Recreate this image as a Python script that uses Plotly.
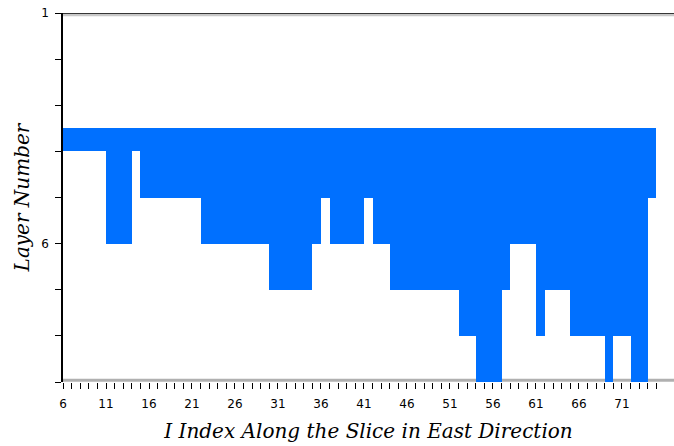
import plotly.graph_objects as go

# I index of each column along the slice
i_index = list(range(6, 75))
# Bottom layer reached by the active cells in each column
bottom_layer = (
    [4] * 5 + [6] * 3 + [4] + [5] * 7 + [6] * 8 + [7] * 5 + [6] + [5] + [6] * 4 + [5]
    + [6] * 2 + [7] * 8 + [8] * 2 + [9] * 3 + [7] + [6] * 3 + [8] + [7] * 3 + [8] * 4
    + [9] + [8] * 2 + [9] * 2 + [5]
)
top_layer = 3.5

x_tick_vals = list(range(6, 76))
x_tick_text = [str(v) if (v - 6) % 5 == 0 and v <= 71 else "" for v in x_tick_vals]
y_tick_vals = list(range(1, 10))
y_tick_text = ["1", "", "", "", "", "6", "", "", ""]

x_min, x_max = 6, 77.05

fig = go.Figure()
fig.add_trace(go.Bar(
    x=i_index,
    y=[b - top_layer for b in bottom_layer],
    base=[top_layer] * len(i_index),
    width=1,
    offset=0,
    marker=dict(color="#0070FF", line=dict(width=0)),
    showlegend=False,
    hoverinfo="skip",
))

shapes = [
    # grey rule along layer 9 (under the bars)
    dict(type="line", xref="x", yref="y", x0=x_min, x1=x_max, y0=8.96, y1=8.96,
         line=dict(color="#b0b0b0", width=3), layer="below"),
    # bottom axis line
    dict(type="line", xref="x", yref="y", x0=x_min, x1=75.2, y0=9.02, y1=9.02,
         line=dict(color="black", width=1.5), layer="above"),
    # top border with soft shadow
    dict(type="line", xref="x", yref="y", x0=x_min, x1=x_max, y0=1.04, y1=1.04,
         line=dict(color="#c8c8c8", width=3), layer="above"),
    dict(type="line", xref="x", yref="y", x0=x_min, x1=x_max, y0=1.0, y1=1.0,
         line=dict(color="black", width=1.5), layer="above"),
]

fig.update_layout(
    width=674, height=446,
    margin=dict(l=63, r=0, t=13, b=64),
    paper_bgcolor="white", plot_bgcolor="white",
    bargap=0,
    shapes=shapes,
    xaxis=dict(
        range=[x_min, x_max], tickmode="array", tickvals=x_tick_vals, ticktext=x_tick_text,
        ticks="outside", ticklen=6, tickwidth=1.2, tickcolor="black",
        ticklabelstandoff=5,
        showline=False, showgrid=False, zeroline=False,
        tickfont=dict(family="DejaVu Sans", size=12, color="black"),
        title=dict(text="I Index Along the Slice in East Direction",
                   font=dict(family="DejaVu Serif", size=20, color="black", style="italic"),
                   standoff=13),
    ),
    yaxis=dict(
        range=[9, 1], tickmode="array", tickvals=y_tick_vals, ticktext=y_tick_text,
        ticks="outside", ticklen=6, tickwidth=1.2, tickcolor="black",
        ticklabelstandoff=4,
        showline=True, linecolor="black", linewidth=1.5,
        showgrid=False, zeroline=False,
        tickfont=dict(family="DejaVu Sans", size=12, color="black"),
        title=dict(text="Layer Number",
                   font=dict(family="DejaVu Serif", size=20, color="black", style="italic"),
                   standoff=6),
    ),
)

fig.write_html("out.html")
